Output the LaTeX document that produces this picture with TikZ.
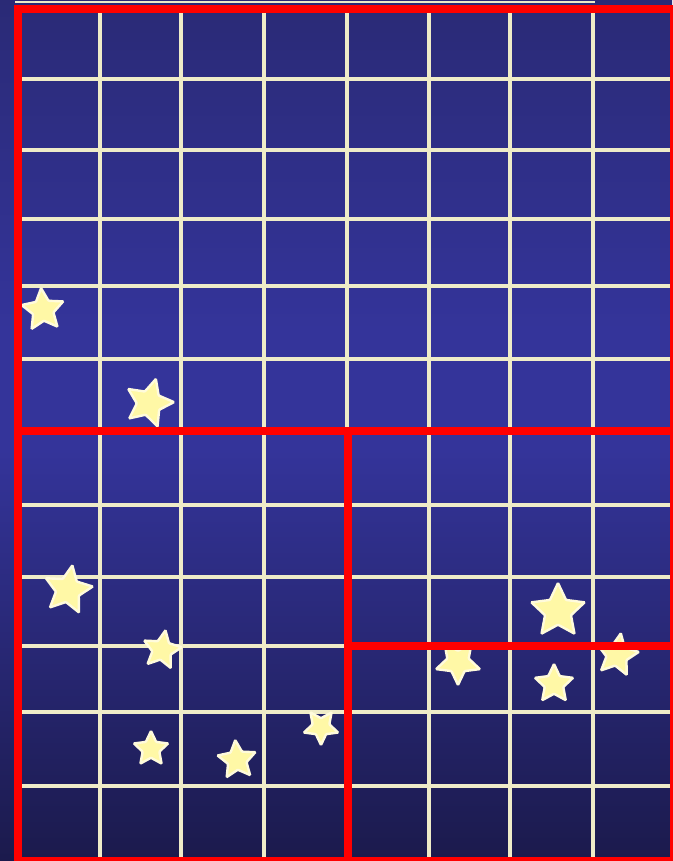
\documentclass[tikz,border=0pt]{standalone}
\usepackage{tikz}
\usetikzlibrary{shapes.geometric}

\definecolor{nighttop}{HTML}{2A2A76}
\definecolor{nightmid}{HTML}{34349A}
\definecolor{nightlow}{HTML}{1B1A4C}
\definecolor{gridcream}{HTML}{EFECC8}
\definecolor{splitred}{HTML}{FF0000}
\definecolor{starfill}{HTML}{FFF8A6}
\definecolor{starrim}{HTML}{FFFBDC}

\begin{document}
\begin{tikzpicture}[
    x=0.25mm, y=-0.25mm,
    gridline/.style={gridcream, line width=0.85mm},
    split/.style={splitred, line width=2mm},
    starnode/.style={star, star points=5, star point ratio=2.05, inner sep=0pt,
                     fill=starfill, draw=starrim, line width=0.6mm,
                     rounded corners=0.2mm, minimum size=#1*0.5mm}
  ]

  \useasboundingbox (0,0) rectangle (672,861);
  \shade[top color=nighttop, bottom color=nightmid] (0,0) rectangle (672,330);
  \fill[nightmid] (0,329) rectangle (672,451);
  \shade[top color=nightmid, bottom color=nightlow] (0,450) rectangle (672,861);

  % grid
  \foreach \gx in {100,181,264,347,429,510,593}
    \draw[gridline] (\gx,9) -- (\gx,858);
  \foreach \gy in {79,150,219,286,359,505,577,646,712,786}
    \draw[gridline] (18,\gy) -- (672,\gy);
  \draw[gridcream, line width=0.4mm] (15,2) -- (595,2);

  % stars
  \node[starnode=22, rotate=5] (star1) at (43,310) {};
  \node[starnode=25, rotate=-16] (star2) at (149,403) {};
  \node[starnode=25, rotate=-10] (star3) at (68,590) {};
  \node[starnode=20, rotate=-10] (star4) at (162,650) {};
  \node[starnode=18] (star5) at (151,749) {};
  \node[starnode=20, rotate=5] (star6) at (237,760) {};
  \node[starnode=18, rotate=180] (star7) at (321,727) {};
  \node[starnode=23, rotate=180] (star8) at (458,662) {};
  \node[starnode=28] (star9) at (558,611) {};
  \node[starnode=20] (star10) at (554,684) {};
  \node[starnode=22, rotate=-10] (star11) at (617,655) {};

  % splits
  \draw[split] (18,5) -- (18,865);
  \draw[split] (14,9) -- (676,9);
  \draw[split] (674,9) -- (674,861);
  \draw[split] (18,431) -- (672,431);
  \draw[split] (348,431) -- (348,861);
  \draw[split] (348,646) -- (672,646);
  \draw[split] (18,861) -- (676,861);

\end{tikzpicture}
\end{document}
